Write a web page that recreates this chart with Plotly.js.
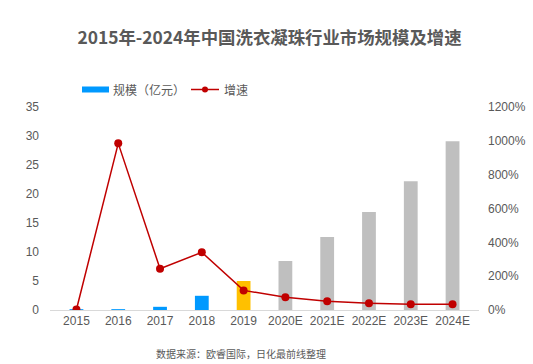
<!DOCTYPE html>
<html><head><meta charset="utf-8">
<script src="https://cdn.plot.ly/plotly-3.0.1.min.js"></script>
<style>html,body{margin:0;padding:0;background:#fff}#chart{width:533px;height:364px}</style>
</head><body><div id="chart"></div>
<script>
const categories = ['2015','2016','2017','2018','2019','2020E','2021E','2022E','2023E','2024E'];
const marketSize = [0.15, 0.15, 0.55, 2.45, 5.0, 8.45, 12.6, 16.9, 22.2, 29.1];
const growthRate = [3, 985, 244, 341, 116, 75, 51, 40, 34, 34];
const barColors = ['#0099FF','#0099FF','#0099FF','#0099FF','#FFC000','#BFBFBF','#BFBFBF','#BFBFBF','#BFBFBF','#BFBFBF'];
const seriesNames = ['规模（亿元）', '增速'];

const M = {l:50, r:54, t:107, b:54};
const W = 533, H = 364;
const PW = W - M.l - M.r, PH = H - M.t - M.b;
const px = x => (x - M.l) / PW;
const py = y => (H - M.b - y) / PH;

const FONT = 'Liberation Sans, Arial, "Noto Sans CJK SC", sans-serif';
const CJK = '"Noto Sans CJK SC", sans-serif';
const traces = [
  {type:'bar', x:categories, y:marketSize, name:seriesNames[0], marker:{color:barColors}, yaxis:'y'},
  {type:'scatter', mode:'lines+markers', x:categories, y:growthRate, name:seriesNames[1], yaxis:'y2',
   line:{color:'#C00000', width:1.5}, marker:{color:'#C00000', size:8}}
];
const layout = {
  width:W, height:H,
  margin:M,
  paper_bgcolor:'#fff', plot_bgcolor:'#fff',
  font:{family:FONT, size:12, color:'#595959'},
  title:{text:'<b>2015年-2024年中国洗衣凝珠行业市场规模及增速</b>', x:px(269.5), xref:'paper', xanchor:'center', y:0.895, yanchor:'middle',
         font:{family:CJK, size:17.4, color:'#595959'}},
  bargap:0.67,
  showlegend:false,
  xaxis:{type:'category', showgrid:false, showline:true, linecolor:'#D9D9D9', linewidth:1, ticks:'', tickfont:{size:12, color:'#595959'}, zeroline:false},
  yaxis:{range:[0,35], dtick:5, showgrid:false, zeroline:false, showline:false, ticks:'', ticklabelstandoff:10, tickfont:{size:12, color:'#595959'}},
  yaxis2:{range:[0,1200], dtick:200, overlaying:'y', side:'right', ticksuffix:'%', showgrid:false, zeroline:false, showline:false, ticks:'', ticklabelstandoff:8, tickfont:{size:12, color:'#595959'}},
  shapes:[
    {type:'rect', xref:'paper', yref:'paper', x0:px(82), x1:px(109), y0:py(92.5), y1:py(86.5), fillcolor:'#0099FF', line:{width:0}},
    {type:'line', xref:'paper', yref:'paper', x0:px(191), x1:px(219), y0:py(89.5), y1:py(89.5), line:{color:'#C00000', width:1.5}},
    {type:'circle', xref:'paper', yref:'paper', x0:px(202), x1:px(208), y0:py(92.5), y1:py(86.5), fillcolor:'#C00000', line:{width:0}}
  ],
  annotations:[
    {text:seriesNames[0], xref:'paper', yref:'paper', x:px(111), y:py(89.5), xanchor:'left', yanchor:'middle', showarrow:false,
     font:{family:CJK, size:12, color:'#595959'}},
    {text:seriesNames[1], xref:'paper', yref:'paper', x:px(222), y:py(89.5), xanchor:'left', yanchor:'middle', showarrow:false,
     font:{family:CJK, size:12, color:'#595959'}},
    {text:'数据来源：欧睿国际，日化最前线整理', xref:'paper', yref:'paper', x:px(241), y:py(353), xanchor:'center', yanchor:'middle', showarrow:false,
     font:{family:CJK, size:10, color:'#595959'}}
  ]
};
Plotly.newPlot('chart', traces, layout, {displayModeBar:false, staticPlot:true});
</script></body></html>
